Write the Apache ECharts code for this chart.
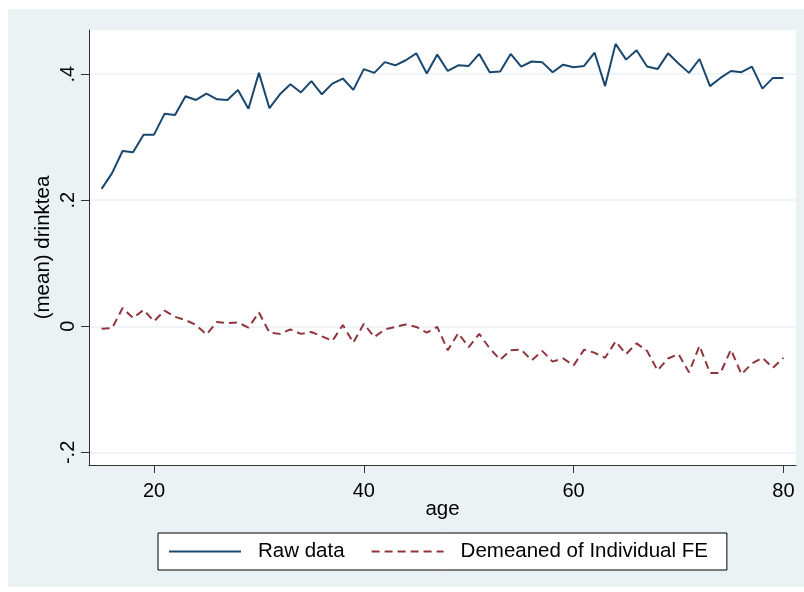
<!DOCTYPE html>
<html>
<head>
<meta charset="utf-8">
<script src="https://cdn.jsdelivr.net/npm/echarts@6/dist/echarts.min.js"></script>
<style>
html,body{margin:0;padding:0;background:#ffffff;width:804px;height:592px;overflow:hidden;}
#chart{position:absolute;left:8px;top:9px;width:796px;height:578px;}
</style>
</head>
<body>
<div id="chart"></div>
<script>
const ages = [15,16,17,18,19,20,21,22,23,24,25,26,27,28,29,30,31,32,33,34,35,36,
  37,38,39,40,41,42,43,44,45,46,47,48,49,50,51,52,53,54,55,56,57,58,
  59,60,61,62,63,64,65,66,67,68,69,70,71,72,73,74,75,76,77,78,79,80];
const rawData = [0.218,0.243,0.278,0.276,0.304,0.304,0.337,0.335,0.365,0.359,0.369,0.360,0.359,0.375,0.345,0.402,0.346,0.368,0.384,0.371,0.389,0.368,
  0.385,0.393,0.375,0.408,0.402,0.419,0.414,0.422,0.433,0.401,0.431,0.405,0.414,0.413,0.432,0.403,0.404,0.432,0.412,0.420,0.419,0.403,
  0.415,0.411,0.413,0.434,0.381,0.448,0.423,0.438,0.412,0.408,0.433,0.417,0.402,0.424,0.381,0.394,0.405,0.403,0.412,0.377,0.394,0.394];
const demeaned = [-0.004,-0.003,0.029,0.013,0.026,0.008,0.025,0.015,0.010,0.002,-0.013,0.007,0.005,0.006,-0.002,0.022,-0.010,-0.012,-0.005,-0.012,-0.009,-0.016,
  -0.023,0.002,-0.026,0.004,-0.017,-0.005,-0.001,0.003,-0.001,-0.010,-0.001,-0.038,-0.011,-0.033,-0.012,-0.035,-0.053,-0.038,-0.037,-0.054,-0.039,-0.056,
  -0.051,-0.062,-0.037,-0.042,-0.050,-0.024,-0.044,-0.027,-0.039,-0.070,-0.051,-0.044,-0.073,-0.031,-0.074,-0.074,-0.037,-0.076,-0.059,-0.050,-0.066,-0.050];
const xTicks = [20,40,60,80];
const yTicks = [-0.2,0,0.2,0.4];
const yTickLabels = ['-.2','0','.2','.4'];
const seriesNames = ['Raw data','Demeaned of Individual FE'];

const FONT = "'Liberation Sans', Arial, Helvetica, sans-serif";
const FS = 20.5;
const chart = echarts.init(document.getElementById('chart'), null, {renderer:'canvas'});
chart.setOption({
  backgroundColor: '#EAF2F3',
  animation: false,
  textStyle: {fontFamily: FONT},
  grid: {left: 81, right: 8, top: 21, bottom: 122, show: true, backgroundColor: '#ffffff', borderWidth: 0},
  legend: {
    bottom: 17, left: 150,
    data: seriesNames,
    itemWidth: 72, itemHeight: 14, itemGap: 26,
    padding: [8, 19, 8, 10],
    borderColor: '#000000', borderWidth: 1,
    backgroundColor: '#ffffff',
    itemStyle: {opacity: 0},
    textStyle: {fontSize: FS, color: '#000000', fontFamily: FONT, padding: [0,0,0,12]}
  },
  xAxis: {
    type: 'value', min: 13.8, max: 81.2,
    name: 'age', nameLocation: 'middle', nameGap: 34, nameMoveOverlap: false,
    nameTextStyle: {fontSize: FS, color: '#000000', fontFamily: FONT},
    axisLine: {show: true, onZero: false, lineStyle: {color: '#333333', width: 1}},
    axisTick: {show: true, length: 8, customValues: xTicks, lineStyle: {color: '#333333'}},
    axisLabel: {customValues: xTicks, fontSize: 20, color: '#000000', margin: 16, fontFamily: FONT},
    splitLine: {show: false}
  },
  yAxis: {
    type: 'value', min: -0.22, max: 0.47,
    name: '(mean) drinktea', nameLocation: 'middle', nameGap: 35, nameRotate: 90, nameMoveOverlap: false,
    nameTextStyle: {fontSize: FS, color: '#000000', fontFamily: FONT},
    axisLine: {show: true, onZero: false, lineStyle: {color: '#333333', width: 1}},
    axisTick: {show: true, length: 8, customValues: yTicks, lineStyle: {color: '#333333'}},
    axisLabel: {
      customValues: yTicks, rotate: 90, fontSize: 20, color: '#000000', margin: 11, fontFamily: FONT,
      formatter: function (v) { const i = yTicks.findIndex(t => Math.abs(t - v) < 1e-9); return i >= 0 ? yTickLabels[i] : ''; }
    },
    splitLine: {show: true, lineStyle: {color: '#EAF2F3', width: 1.5}}
  },
  series: [
    {
      name: seriesNames[0], type: 'line', symbol: 'none',
      data: ages.map((a, i) => [a, rawData[i]]),
      lineStyle: {color: '#1A476F', width: 2},
      itemStyle: {color: '#1A476F'}
    },
    {
      name: seriesNames[1], type: 'line', symbol: 'none',
      data: ages.map((a, i) => [a, demeaned[i]]),
      lineStyle: {color: '#90353B', width: 2, type: [8, 5]},
      itemStyle: {color: '#90353B'}
    }
  ]
});
</script>
</body>
</html>
